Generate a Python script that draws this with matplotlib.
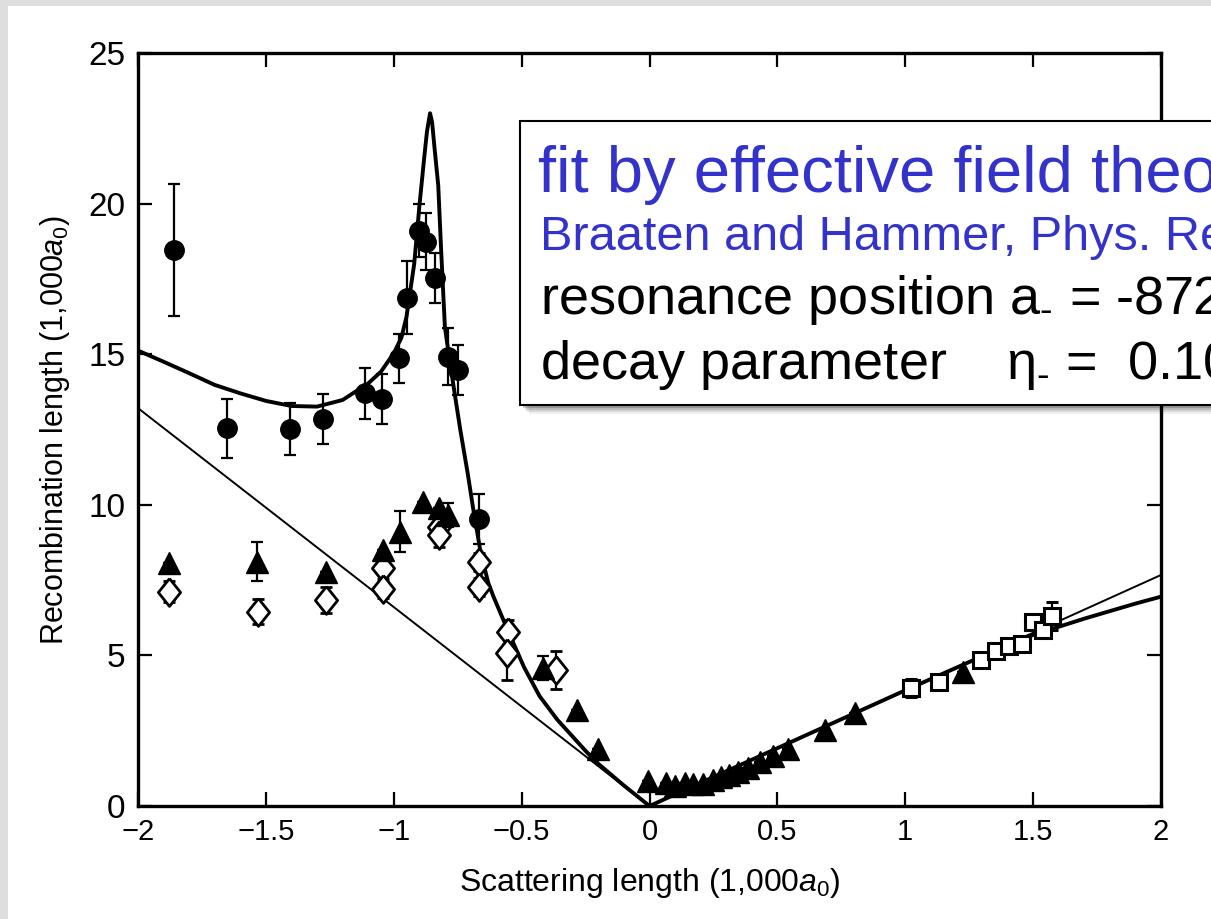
import matplotlib
matplotlib.use("Agg")
import matplotlib.pyplot as plt
from matplotlib.patches import Rectangle

# --- data (x in 1,000 a0, y in 1,000 a0) ---
circ_x = [-1.859, -1.653, -1.406, -1.275, -1.112, -1.045, -0.978, -0.947, -0.900, -0.874, -0.839, -0.787, -0.750, -0.667]
circ_y = [18.46, 12.54, 12.51, 12.84, 13.70, 13.51, 14.86, 16.88, 19.10, 18.74, 17.54, 14.92, 14.48, 9.52]
circ_err = [2.2, 0.97, 0.87, 0.83, 0.85, 0.82, 0.80, 1.2, 0.88, 0.96, 0.83, 0.94, 0.83, 0.83]

tri_x = [-1.879, -1.534, -1.266, -1.041, -0.976, -0.884, -0.822, -0.787, -0.415, -0.282, -0.200, -0.005,
         0.065, 0.100, 0.139, 0.171, 0.210, 0.250, 0.280, 0.310, 0.345, 0.386, 0.432, 0.484, 0.540,
         0.686, 0.804, 1.227]
tri_y = [8.06, 8.11, 7.78, 8.50, 9.11, 10.10, 9.88, 9.66, 4.57, 3.19, 1.88, 0.83,
         0.75, 0.68, 0.78, 0.74, 0.72, 0.85, 0.95, 1.02, 1.12, 1.27, 1.47, 1.66, 1.90,
         2.52, 3.08, 4.46]
tri_err = [0, 0.64, 0, 0, 0.67, 0, 0, 0.4, 0.4, 0, 0, 0,
           0, 0, 0, 0, 0, 0, 0, 0, 0, 0, 0, 0, 0,
           0, 0, 0]

dia_x = [-1.879, -1.530, -1.266, -1.041, -1.041, -0.823, -0.823, -0.667, -0.667, -0.552, -0.558, -0.367]
dia_y = [7.12, 6.45, 6.84, 7.89, 7.22, 9.27, 9.00, 8.11, 7.28, 5.79, 5.09, 4.52]
dia_err = [0.35, 0.42, 0.44, 0, 0.3, 0, 0.4, 0.3, 0.3, 0.4, 0.9, 0.64]

sq_x = [1.021, 1.133, 1.295, 1.355, 1.407, 1.455, 1.501, 1.540, 1.573]
sq_y = [3.91, 4.11, 4.85, 5.15, 5.32, 5.37, 6.12, 5.84, 6.31]
sq_err = [0.3, 0.2, 0.2, 0.2, 0.2, 0.2, 0.2, 0.2, 0.47]

# thin universal lines
thin_neg_x = [-2.0, 0.0]
thin_neg_y = [13.21, 0.0]
thin_pos_x = [0.0, 2.0]
thin_pos_y = [0.0, 7.67]

# thick EFT curve, read point by point
fit_neg_x = [-2.0, -1.9, -1.8, -1.7, -1.6, -1.5, -1.4, -1.3, -1.2, -1.1, -1.05, -1.0, -0.97, -0.95,
             -0.92, -0.90, -0.88, -0.87, -0.858, -0.85, -0.84, -0.826, -0.815, -0.80, -0.78, -0.76,
             -0.74, -0.71, -0.69, -0.66, -0.63, -0.61, -0.58, -0.55, -0.49, -0.43, -0.36, -0.30,
             -0.25, -0.20, -0.10, 0.0]
fit_neg_y = [15.12, 14.75, 14.37, 13.98, 13.70, 13.45, 13.28, 13.26, 13.48, 14.03, 14.42, 15.03, 15.55, 16.25,
             18.0, 19.9, 21.6, 22.4, 23.0, 22.7, 21.8, 20.6, 18.5, 15.9, 14.7, 13.6,
             12.5, 11.0, 9.9, 8.4, 7.4, 6.95, 6.35, 5.75, 4.6, 3.65, 2.86, 2.30,
             1.83, 1.40, 0.68, 0.0]
fit_pos_x = [0.0, 0.25, 0.5, 0.75, 1.0, 1.25, 1.5, 1.6, 1.7, 1.8, 1.9, 2.0]
fit_pos_y = [0.0, 0.96, 1.92, 2.88, 3.84, 4.78, 5.68, 5.95, 6.22, 6.47, 6.72, 6.95]

box_lines = ["fit by effective field theory",
             "Braaten and Hammer, Phys. Rep. 428, 259 (2006)",
             "resonance position a$_{\\text{-}}$ = -872 a$_0$",
             "decay parameter    \u03b7$_{\\text{-}}$ =  0.10"]

W, H = 1211, 919
def fx(px):
    return px / W
def fy(py):
    return 1 - py / H

plt.rcParams['font.family'] = ['Liberation Sans', 'DejaVu Sans']
plt.rcParams['mathtext.fontset'] = 'custom'
plt.rcParams['mathtext.it'] = 'Liberation Sans:italic'
plt.rcParams['mathtext.rm'] = 'Liberation Sans'

fig = plt.figure(figsize=(W / 100, H / 100), dpi=100, facecolor='#dedede')
fig.patches.append(Rectangle((fx(8), 0), 1, fy(6), transform=fig.transFigure,
                             facecolor='white', edgecolor='none', zorder=-10))

ax = fig.add_axes([fx(138), fy(806), fx(1161) - fx(138), fy(53) - fy(806)])
ax.set_facecolor('none')

ax.plot(thin_neg_x, thin_neg_y, color='black', lw=1.4, zorder=2)
ax.plot(thin_pos_x, thin_pos_y, color='black', lw=1.4, zorder=2)
ax.plot(fit_neg_x, fit_neg_y, color='black', lw=2.8, zorder=2)
ax.plot(fit_pos_x, fit_pos_y, color='black', lw=2.8, zorder=2)

diamond = [(0, 1), (0.8, 0), (0, -1), (-0.8, 0), (0, 1)]
ebkw = dict(ecolor='black', elinewidth=1.6, capsize=4, capthick=1.6, linestyle='none')
ax.errorbar(dia_x, dia_y, yerr=dia_err, marker=diamond, ms=20, mfc='white', mec='black', mew=2.0, zorder=3, **ebkw)
ax.errorbar(sq_x, sq_y, yerr=sq_err, fmt='s', ms=11, mfc='white', mec='black', mew=2.2, zorder=3, **ebkw)
ax.errorbar(tri_x, tri_y, yerr=tri_err, fmt='^', ms=16, mfc='black', mec='black', zorder=4, **ebkw)
ax.errorbar(circ_x, circ_y, yerr=circ_err, fmt='o', ms=14, mfc='black', mec='black', zorder=4, **ebkw)

ax.set_xlim(-2, 2)
ax.set_ylim(0, 25)
ax.set_xticks([-2, -1.5, -1, -0.5, 0, 0.5, 1, 1.5, 2])
ax.set_xticklabels(['\u22122', '\u22121.5', '\u22121', '\u22120.5', '0', '0.5', '1', '1.5', '2'])
ax.set_yticks([0, 5, 10, 15, 20, 25])
ax.tick_params(direction='in', top=True, right=True, length=10, width=1.6)
ax.tick_params(axis='y', labelsize=24, pad=9)
ax.tick_params(axis='x', labelsize=21, pad=9)
for s in ax.spines.values():
    s.set_linewidth(2.4)

ax.set_xlabel('Scattering length (1,000$a_0$)', fontsize=23, labelpad=14)
ax.set_ylabel('Recombination length (1,000$a_0$)', fontsize=22, labelpad=12)

# overlay box with shadow
bx0, by0, bx1, by1 = 520, 121, 1260, 405
for k, a in zip([9, 7, 5, 3], [0.06, 0.10, 0.14, 0.18]):
    fig.patches.append(Rectangle((fx(bx0 + k), fy(by1 + k)), fx(bx1 - bx0), fy(by0) - fy(by1),
                                 transform=fig.transFigure, facecolor='black', alpha=a,
                                 edgecolor='none', zorder=20))
fig.patches.append(Rectangle((fx(bx0), fy(by1)), fx(bx1 - bx0), fy(by0) - fy(by1),
                             transform=fig.transFigure, facecolor='white', edgecolor='black',
                             linewidth=1.5, zorder=21))

fig.text(fx(538), fy(175), box_lines[0], fontsize=47, color='#3333cc', va='center', zorder=22)
fig.text(fx(540), fy(238), box_lines[1], fontsize=35, color='#3333cc', va='center', zorder=22)
fig.text(fx(540), fy(300), box_lines[2], fontsize=39, color='black', va='center', zorder=22)
fig.text(fx(540), fy(365), box_lines[3], fontsize=39, color='black', va='center', zorder=22)

fig.savefig('out.png', dpi=100, facecolor=fig.get_facecolor())
